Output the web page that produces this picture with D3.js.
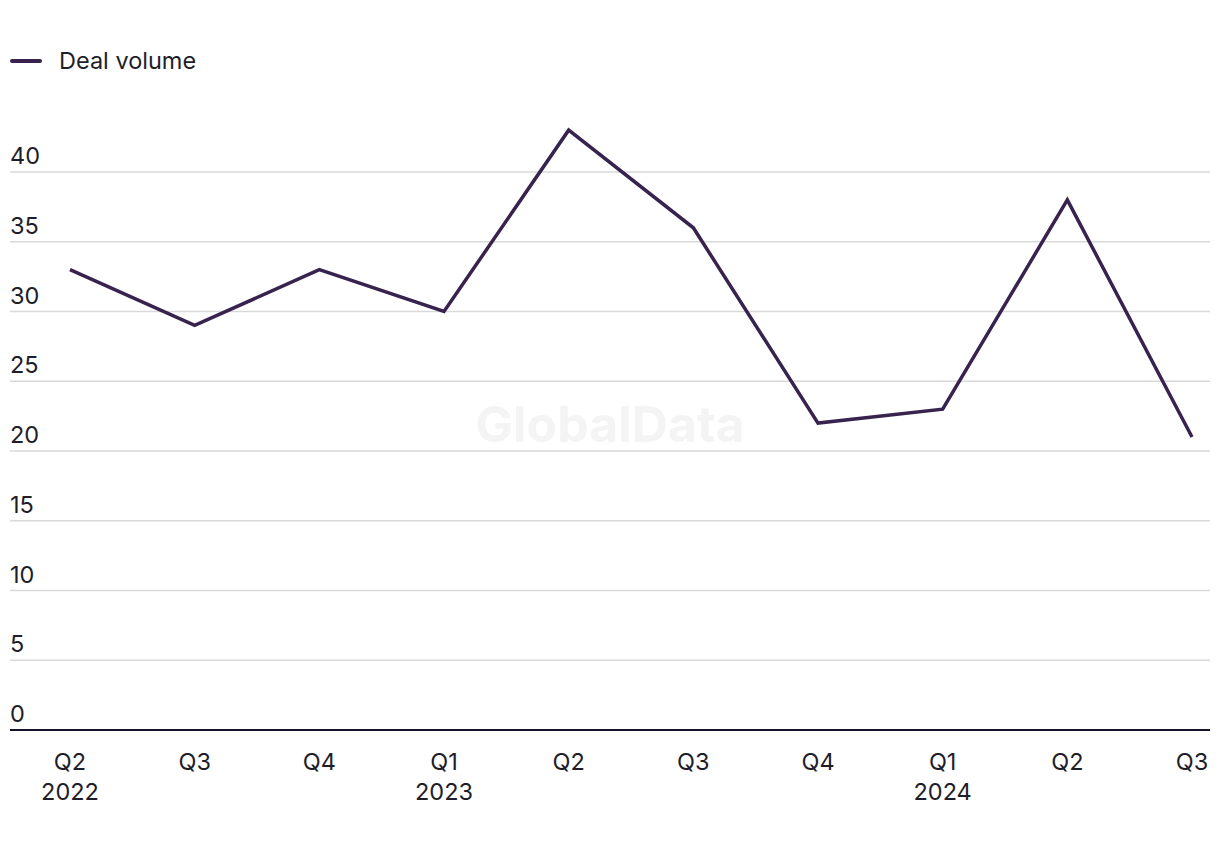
<!DOCTYPE html>
<html><head><meta charset="utf-8">
<script src="https://cdn.jsdelivr.net/npm/d3@7"></script>
<style>body{margin:0;background:#fff;} svg{display:block;} text{font-family:Inter, "Noto Sans", sans-serif;}</style>
</head><body>
<svg id="chart" width="1220" height="850"></svg>
<script>
const quarters = ["Q2","Q3","Q4","Q1","Q2","Q3","Q4","Q1","Q2","Q3"];
const years = ["2022","","","2023","","","","2024","",""];
const dealVolume = [33,29,33,30,43,36,22,23,38,21];
const yTicks = [0,5,10,15,20,25,30,35,40];
const seriesName = "Deal volume";

const svg = d3.select("#chart");
const idx = d3.range(quarters.length);
const x = d3.scalePoint().domain(idx).range([70,1192]);
const y = d3.scaleLinear().domain([0,40]).range([730,172]);
const fs = 23.5;

// watermark
svg.append("text").attr("x",610).attr("y",442).attr("text-anchor","middle")
  .attr("font-size",50).attr("font-weight",700).attr("fill","#f4f4f4").text("GlobalData");

// gridlines
svg.append("g").selectAll("line").data(yTicks.filter(d=>d>0)).join("line")
  .attr("x1",10).attr("x2",1210).attr("y1",d=>y(d)).attr("y2",d=>y(d))
  .attr("stroke","#d9d9d9").attr("stroke-width",1.5);
svg.append("g").selectAll("text").data(yTicks).join("text")
  .attr("x",10).attr("y",d=>y(d)-8).attr("font-size",fs).attr("fill","#1e1e2a").text(d=>d);

// axis line
svg.append("line").attr("x1",10).attr("x2",1210).attr("y1",y(0)).attr("y2",y(0))
  .attr("stroke","#15132b").attr("stroke-width",2);

// x labels
const xl = svg.append("g").selectAll("g").data(idx).join("g");
xl.append("text").attr("x",d=>x(d)).attr("y",770).attr("text-anchor","middle")
  .attr("font-size",fs).attr("fill","#1e1e2a").text(d=>quarters[d]);
xl.append("text").attr("x",d=>x(d)).attr("y",800).attr("text-anchor","middle")
  .attr("font-size",fs).attr("fill","#1e1e2a").text(d=>years[d]);

// line
svg.append("path").datum(idx)
  .attr("d",d3.line().x(d=>x(d)).y(d=>y(dealVolume[d])))
  .attr("fill","none").attr("stroke","#38234f").attr("stroke-width",3.5).attr("stroke-linejoin","miter");

// legend
svg.append("line").attr("x1",12).attr("x2",40).attr("y1",61).attr("y2",61)
  .attr("stroke","#38234f").attr("stroke-width",4).attr("stroke-linecap","round");
svg.append("text").attr("x",59).attr("y",69).attr("font-size",fs).attr("fill","#1e1e2a").text(seriesName);
</script>
</body></html>
